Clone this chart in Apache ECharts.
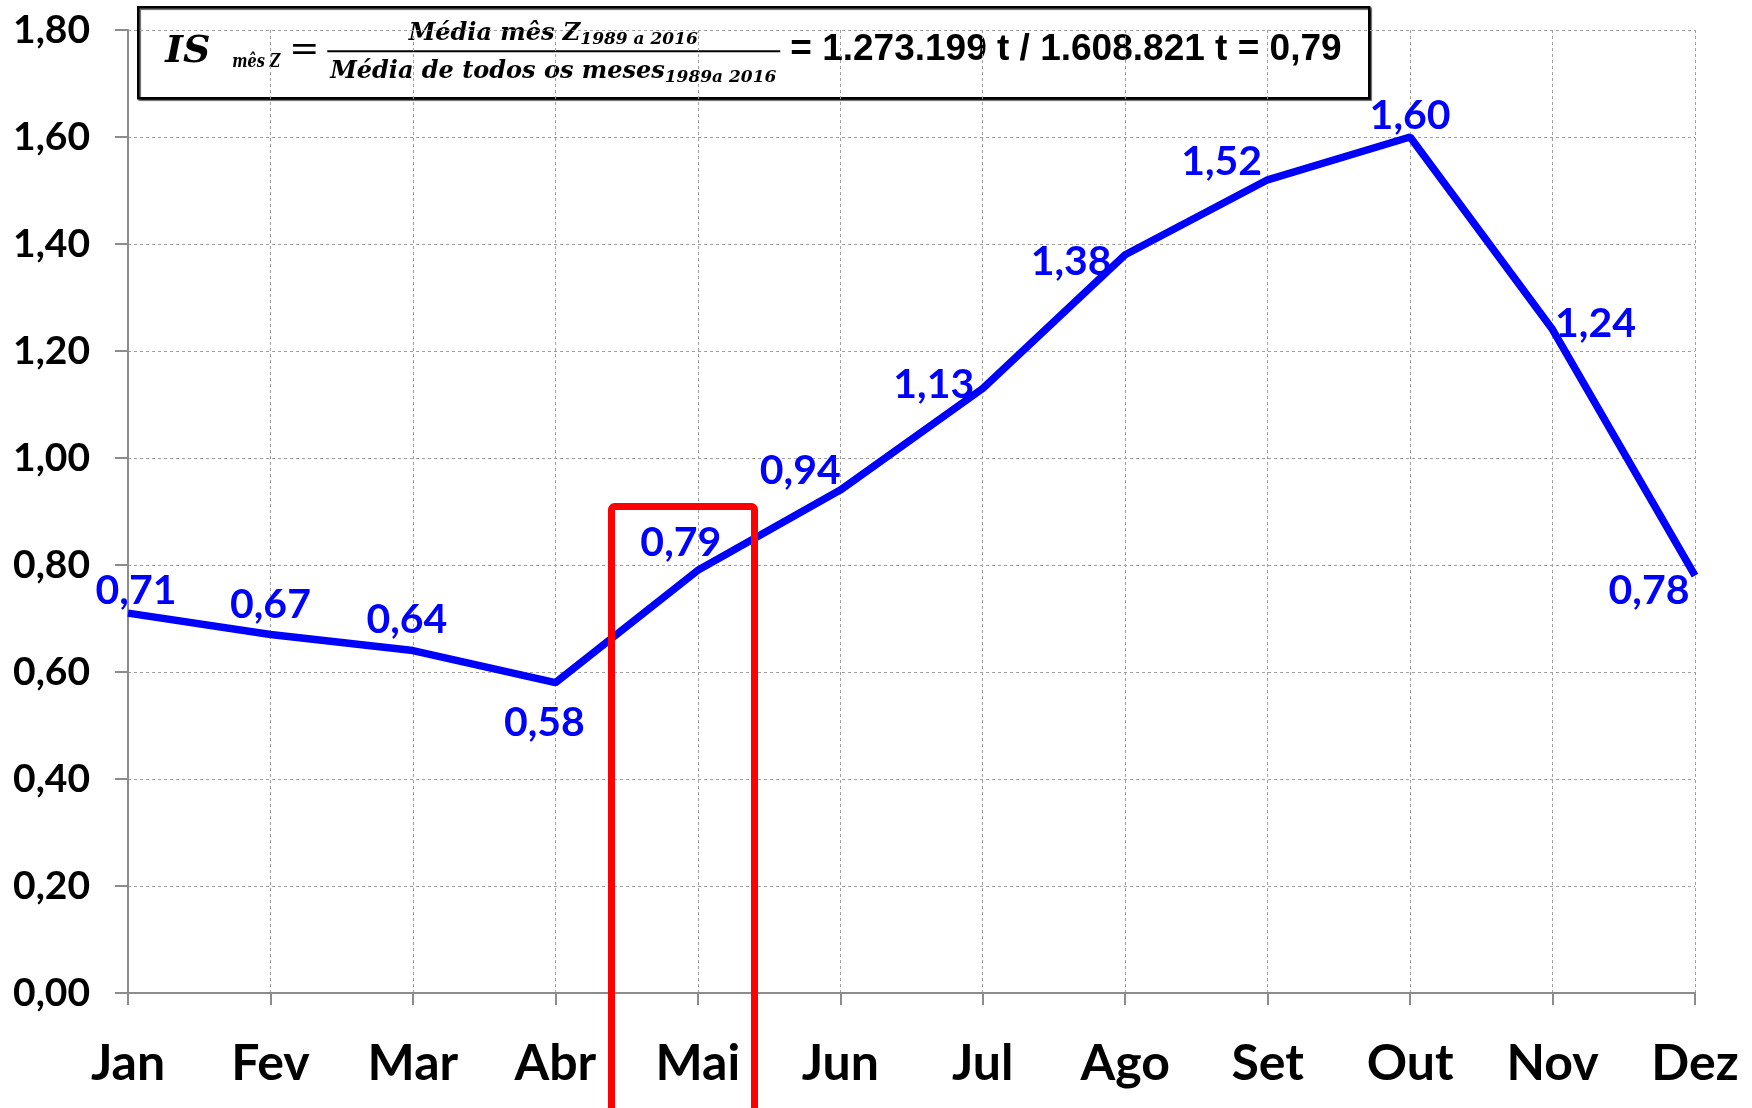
<!DOCTYPE html>
<html>
  <head>
    <meta charset="utf-8">
    <title>IS mês Z</title>
    <style>
      html, body { margin: 0; padding: 0; background: #fff; }
      #chart { width: 1752px; height: 1108px; }
    </style>
  </head>
  <body>
    <div id="chart"></div>
    <script src="https://cdn.jsdelivr.net/npm/echarts@6/dist/echarts.min.js"></script>
    <script>
      // Data
      var months = ['Jan', 'Fev', 'Mar', 'Abr', 'Mai', 'Jun', 'Jul', 'Ago', 'Set', 'Out', 'Nov', 'Dez'];
      var indices = [0.71, 0.67, 0.64, 0.58, 0.79, 0.94, 1.13, 1.38, 1.52, 1.60, 1.24, 0.78];
      var yTicks = [0, 0.2, 0.4, 0.6, 0.8, 1.0, 1.2, 1.4, 1.6, 1.8];

      // label placement for each point (pixel offset from the point)
      var labelOffsets = [
        [8, -22], [0, -30], [-6, -31], [-11, 40], [-17, -28], [-40, -19],
        [-49, -4], [-54, 7], [-46, -18], [0, -21], [43, -6], [-46, 15]
      ];

      var fmt = function (v) {
        return v.toFixed(2).replace('.', ',');
      };

      var seriesData = indices.map(function (v, i) {
        return {
          value: v,
          label: { offset: labelOffsets[i] }
        };
      });

      var chart = echarts.init(document.getElementById('chart'));
      var labelFont = 'Lato, "Open Sans", sans-serif';
      var mathFont = '"DejaVu Serif", "Liberation Serif", serif';
      var mathStyle = function (size) {
        return { fontFamily: mathFont, fontStyle: 'italic', fontWeight: 'bold', fontSize: size, fill: '#000' };
      };

      chart.setOption({
        animation: false,
        grid: { left: 128, right: 57, top: 30, bottom: 115 },
        xAxis: {
          type: 'category',
          data: months,
          boundaryGap: false,
          axisLine: { lineStyle: { color: '#8c8c8c', width: 2 } },
          axisTick: { show: true, length: 12, lineStyle: { color: '#8c8c8c', width: 2 } },
          axisLabel: {
            margin: 46,
            color: '#000',
            fontFamily: labelFont,
            fontWeight: 'bold',
            fontSize: 50
          },
          splitLine: { show: true, lineStyle: { color: '#a0a0a0', type: [3, 3], width: 1 } }
        },
        yAxis: {
          type: 'value',
          min: yTicks[0],
          max: yTicks[yTicks.length - 1],
          interval: 0.2,
          axisLine: { show: true, lineStyle: { color: '#8c8c8c', width: 2 } },
          axisTick: { show: true, length: 13, lineStyle: { color: '#8c8c8c', width: 2 } },
          axisLabel: {
            margin: 38,
            color: '#000',
            fontFamily: labelFont,
            fontWeight: 'bold',
            fontSize: 39,
            formatter: fmt
          },
          splitLine: { show: true, lineStyle: { color: '#a0a0a0', type: [3, 3], width: 1 } }
        },
        series: [{
          type: 'line',
          data: seriesData,
          symbol: 'circle',
          symbolSize: 1,
          itemStyle: { color: 'rgba(0,0,255,0)' },
          lineStyle: { color: '#0000ff', width: 7.5 },
          label: {
            show: true,
            position: 'inside',
            align: 'center',
            verticalAlign: 'middle',
            color: '#0000ff',
            fontFamily: labelFont,
            fontWeight: 'bold',
            fontSize: 41,
            formatter: function (p) { return fmt(p.value); }
          },
          z: 3
        }],
        graphic: [
          // formula box
          {
            type: 'group',
            left: 137,
            top: 6,
            children: [
              {
                type: 'rect',
                shape: { x: 0, y: 0, width: 1231, height: 91 },
                style: {
                  fill: '#fff', stroke: '#000', lineWidth: 2.5,
                  shadowColor: 'rgba(0,0,0,0.6)', shadowOffsetX: 1.5, shadowOffsetY: 1.5, shadowBlur: 1
                }
              },
              {
                type: 'text', x: 27, y: 45,
                style: Object.assign({ text: 'IS', verticalAlign: 'middle' }, mathStyle(38))
              },
              {
                type: 'text', x: 94, y: 55, scaleX: 0.76,
                style: Object.assign({ text: 'mês Z', verticalAlign: 'middle' }, mathStyle(19))
              },
              {
                type: 'text', x: 151, y: 43,
                style: { text: '=', verticalAlign: 'middle', fontFamily: mathFont, fontSize: 36, fill: '#000' }
              },
              {
                type: 'line',
                shape: { x1: 189, y1: 44, x2: 642, y2: 44 },
                style: { stroke: '#000', lineWidth: 2 }
              },
              {
                type: 'text',
                x: 415, y: 27,
                style: {
                  text: '{m|Média mês Z}{s|1989 a 2016}',
                  align: 'center',
                  verticalAlign: 'middle',
                  rich: {
                    m: mathStyle(24),
                    s: Object.assign({ padding: [10, 0, 0, 0] }, mathStyle(17))
                  }
                }
              },
              {
                type: 'text',
                x: 415, y: 65,
                style: {
                  text: '{m|Média de todos os meses}{s|1989a 2016}',
                  align: 'center',
                  verticalAlign: 'middle',
                  rich: {
                    m: mathStyle(24),
                    s: Object.assign({ padding: [10, 0, 0, 0] }, mathStyle(17))
                  }
                }
              },
              {
                type: 'text',
                x: 652, y: 43,
                style: {
                  text: '= 1.273.199 t / 1.608.821 t = 0,79',
                  verticalAlign: 'middle',
                  fontFamily: '"Liberation Sans", Arial, sans-serif',
                  fontWeight: 'bold',
                  fontSize: 37,
                  fill: '#000'
                }
              }
            ]
          },
          // highlight for Mai
          {
            type: 'rect',
            left: 608,
            top: 503,
            shape: { x: 0, y: 0, width: 143, height: 640, r: 3 },
            style: { fill: 'none', stroke: '#ff0000', lineWidth: 7 },
            z: 10
          }
        ]
      });
    </script>
  </body>
</html>
